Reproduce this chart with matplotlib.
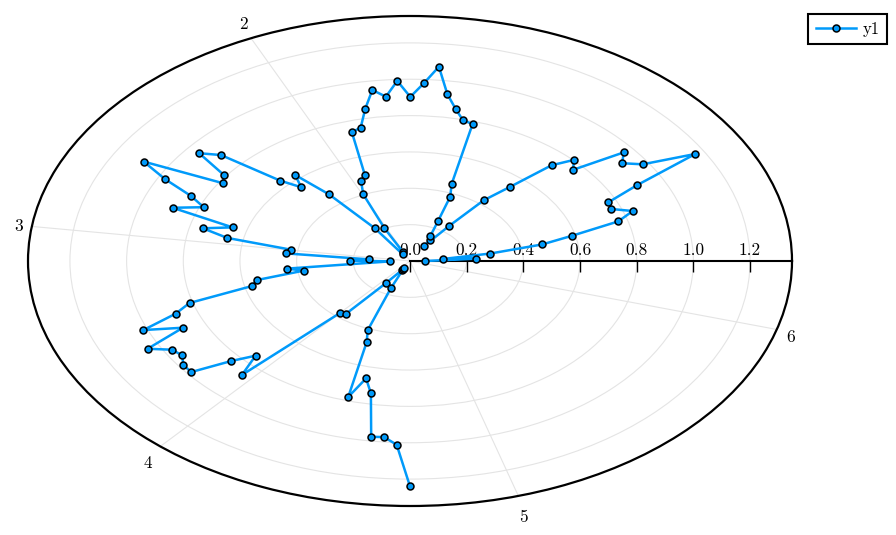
import numpy as np
import matplotlib
matplotlib.use("Agg")
import matplotlib.pyplot as plt
from matplotlib.markers import TICKDOWN

plt.rcParams['font.family'] = ['cmr10', 'DejaVu Serif']
plt.rcParams['axes.formatter.use_mathtext'] = True

# Cartesian components (in radial units) of the series
leaf_x = [0.054, 0.233, 0.115, 0.283, 0.466, 0.570, 0.735, 0.786, 0.711, 0.700,
          0.802, 1.007, 0.821, 0.748, 0.755, 0.576, 0.578, 0.500, 0.352, 0.260,
          0.139, 0.050, 0.072, 0.072, 0.099, 0.142, 0.147, 0.221, 0.187, 0.161,
          0.132, 0.102, 0.049, 0.001, -0.045, -0.085, -0.133, -0.158, -0.174, -0.205,
          -0.159, -0.173, -0.165, -0.090, -0.025, -0.025, -0.124, -0.286, -0.405, -0.384,
          -0.458, -0.667, -0.744, -0.658, -0.660, -0.940, -0.864, -0.773, -0.728, -0.838,
          -0.626, -0.731, -0.645, -0.419, -0.439, -0.145, -0.211, -0.069, -0.435, -0.375,
          -0.541, -0.558, -0.778, -0.827, -0.941, -0.801, -0.926, -0.840, -0.804, -0.800,
          -0.772, -0.630, -0.545, -0.593, -0.247, -0.227, -0.086, -0.029, -0.025, -0.022,
          -0.068, -0.149, -0.153, -0.218, -0.155, -0.138, -0.137, -0.091, -0.047, 0.000]
leaf_y = [0.000, 0.013, 0.011, 0.041, 0.091, 0.138, 0.218, 0.275, 0.286, 0.323,
          0.418, 0.589, 0.532, 0.538, 0.598, 0.502, 0.556, 0.527, 0.407, 0.334,
          0.194, 0.083, 0.117, 0.138, 0.220, 0.354, 0.424, 0.754, 0.774, 0.837,
          0.917, 1.069, 0.978, 0.903, 0.991, 0.904, 0.941, 0.837, 0.734, 0.708,
          0.472, 0.442, 0.367, 0.180, 0.050, 0.036, 0.180, 0.367, 0.473, 0.406,
          0.442, 0.583, 0.593, 0.475, 0.428, 0.547, 0.450, 0.358, 0.296, 0.293,
          0.185, 0.180, 0.127, 0.062, 0.042, 0.009, 0.002, -0.002, -0.042, -0.053,
          -0.105, -0.138, -0.231, -0.290, -0.380, -0.367, -0.483, -0.488, -0.519, -0.572,
          -0.611, -0.550, -0.521, -0.627, -0.286, -0.292, -0.123, -0.051, -0.046, -0.041,
          -0.151, -0.380, -0.447, -0.748, -0.646, -0.728, -0.967, -0.969, -1.011, -1.240]

series_label = "y1"
r_ticks = [0.0, 0.2, 0.4, 0.6, 0.8, 1.0, 1.2]
theta_ticks = [2, 3, 4, 5, 6]          # radians
r_max = 1.348

lx = np.array(leaf_x)
ly = np.array(leaf_y)
theta = np.mod(np.arctan2(ly, lx), 2 * np.pi)
r = np.hypot(lx, ly)

fig = plt.figure(figsize=(8.96, 5.35), dpi=100)
ax = fig.add_axes([28 / 896, 29 / 535, 764 / 896, 490 / 535], projection='polar')
ax.set_aspect('auto')

blue = '#009AFA'
ax.plot(theta, r, color=blue, lw=1.8, marker='o', ms=5, mfc=blue, mec='black',
        mew=1.1, label=series_label, zorder=4, clip_on=False)

ax.set_rlim(0, r_max)
ax.set_rticks(r_ticks[1:])
ax.set_yticklabels([])
ax.set_xticks(theta_ticks)
ax.set_xticklabels([])
ax.grid(True, color='#e4e4e4', lw=0.8)
ax.spines['polar'].set_linewidth(1.6)
ax.spines['polar'].set_color('black')

# angular tick labels just outside the boundary
for t in theta_ticks:
    dx, dy = np.cos(t) * 19, np.sin(t) * 19
    dx = float(np.clip(dx, -13.5, 13.5))
    ax.annotate(str(t), xy=(t, r_max), xytext=(dx, dy - 3), textcoords='offset pixels',
                ha='center', va='center', fontsize=12.5, annotation_clip=False)

# radial axis line with ticks and labels
ax.plot([0, 0], [0, r_max], color='black', lw=1.5, zorder=2.5, clip_on=False)
ax.plot(np.zeros(len(r_ticks)), r_ticks, ls='none', marker=TICKDOWN, ms=8,
        mew=1.0, color='black', zorder=2.5, clip_on=False)
for rv in r_ticks:
    ax.annotate(f"{rv:.1f}", xy=(0, rv), xytext=(0, 3), textcoords='offset pixels',
                ha='center', va='bottom', fontsize=12.5, zorder=2)

leg = fig.legend(loc='upper right', bbox_to_anchor=(887 / 896, 1 - 14 / 535),
                 bbox_transform=fig.transFigure, frameon=True, fancybox=False,
                 edgecolor='black', framealpha=1, borderaxespad=0,
                 handlelength=2.4, handletextpad=0.4, borderpad=0.45, fontsize=12)
leg.get_frame().set_linewidth(1.5)

fig.savefig('out.png', dpi=100)
